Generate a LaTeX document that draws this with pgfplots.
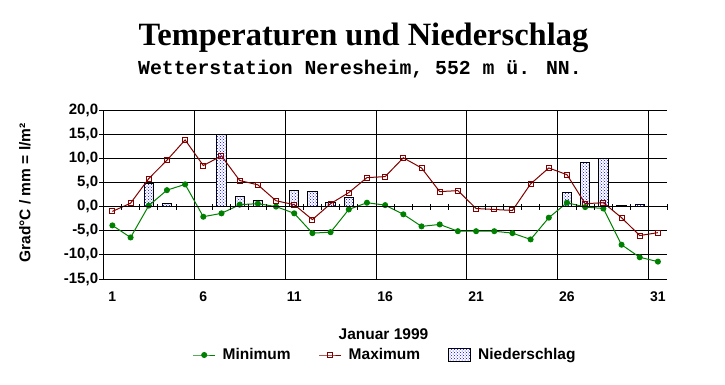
\documentclass[border=0pt]{standalone}
\usepackage{fontspec}
\setmainfont{Liberation Sans}
\newfontfamily\titlefont{Liberation Serif}
\newfontfamily\subfont{Liberation Mono}
\usepackage{pgfplots}
\pgfplotsset{compat=1.18}
\usetikzlibrary{patterns}
\definecolor{mingreen}{RGB}{0,128,0}
\definecolor{maxred}{RGB}{128,0,0}
\begin{document}
\begin{tikzpicture}
\path[use as bounding box] (-103.3pt,-105pt) rectangle (621.7pt,279pt);
\begin{axis}[
  at={(0pt,0pt)}, anchor=south west,
  scale only axis, width=563.7pt, height=169pt,
  xmin=0.5, xmax=31.5, ymin=-15, ymax=20,
  axis x line*=bottom, axis y line*=left,
  axis line style={-, black, line width=1pt},
  xtick={1,6,11,16,21,26,31},
  xticklabels={1,6,11,16,21,26,31},
  xtick style={draw=none},
  extra x ticks={5.5,10.5,15.5,20.5,25.5,30.5},
  extra x tick labels={},
  extra x tick style={grid=major, xtick style={draw=none}},
  ytick={-15,-10,...,20},
  yticklabels={{-15,0},{-10,0},{-5,0},{0,0},{5,0},{10,0},{15,0},{20,0}},
  ymajorgrids,
  grid style={black, line width=1pt},
  ytick style={black, line width=1pt},
  tick align=outside, major tick length=4pt,
  xticklabel style={font=\bfseries\fontsize{14}{16}\selectfont, inner sep=0pt, yshift=-9pt},
  yticklabel style={font=\bfseries\fontsize{15}{17}\selectfont, inner sep=1pt},
  ylabel={Grad°C / mm = l/m²},
  ylabel style={at={(axis description cs:-0.139,0.509)}, anchor=center, rotate=0, font=\bfseries\fontsize{15.5}{17}\selectfont},
  xlabel={Januar 1999},
  xlabel style={at={(axis description cs:0.497,-0.355)}, anchor=base, font=\bfseries\fontsize{15.5}{17}\selectfont},
  legend style={at={(axis description cs:0.5,-0.4497)}, anchor=center, draw=none,
    font=\bfseries\fontsize{15.5}{17}\selectfont,
    /tikz/every odd column/.append style={column sep=5pt},
    /tikz/every even column/.append style={column sep=26pt}},
  legend columns=3,
  legend image code/.code={\draw[mark repeat=2,mark phase=2,#1] plot coordinates {(0pt,0pt) (11pt,0pt) (22pt,0pt)};},
]
\addplot[ybar, bar width=9.3pt, draw=black, line width=1pt, fill=white,
  postaction={pattern=crosshatch dots, pattern color=blue}, forget plot]
  coordinates {(3,4.8) (4,0.6) (7,15.0) (8,2.0) (9,1.2) (11,3.3) (12,3.1) (13,0.9) (14,1.9)
               (26,2.9) (27,9.1) (28,10.0) (29,0.2) (30,0.4)};
\addplot[mingreen, line width=1pt, mark=*, mark size=2.5pt, mark options={fill=mingreen}]
  coordinates {(1,-3.9) (2,-6.4) (3,0.2) (4,3.4) (5,4.6) (6,-2.1) (7,-1.4) (8,0.4) (9,0.6) (10,0.0)
               (11,-1.4) (12,-5.5) (13,-5.3) (14,-0.6) (15,0.8) (16,0.3) (17,-1.6) (18,-4.1) (19,-3.7) (20,-5.1)
               (21,-5.1) (22,-5.1) (23,-5.5) (24,-6.8) (25,-2.3) (26,0.8) (27,-0.1) (28,-0.4) (29,-7.9) (30,-10.5)
               (31,-11.4)};
\addlegendentry{Minimum}
\addplot[maxred, line width=1pt, mark=square, mark size=2.5pt, mark options={solid, fill=white}]
  coordinates {(1,-1.0) (2,0.7) (3,5.8) (4,9.6) (5,13.8) (6,8.5) (7,10.5) (8,5.4) (9,4.5) (10,1.2)
               (11,0.4) (12,-2.7) (13,0.6) (14,2.9) (15,6.0) (16,6.2) (17,10.1) (18,8.0) (19,3.1) (20,3.3)
               (21,-0.4) (22,-0.6) (23,-0.8) (24,4.7) (25,8.0) (26,6.6) (27,0.6) (28,0.8) (29,-2.3) (30,-6.0)
               (31,-5.4)};
\addlegendentry{Maximum}
\addlegendimage{legend image code/.code={\draw[draw=black, line width=1pt, fill=white, postaction={pattern=crosshatch dots, pattern color=blue}] (0pt,-6pt) rectangle (22pt,7pt);}}
\addlegendentry{Niederschlag}
\end{axis}
\begin{axis}[
  at={(0pt,0pt)}, anchor=south west,
  scale only axis, width=563.7pt, height=169pt,
  xmin=0.5, xmax=31.5, ymin=-15, ymax=20,
  axis x line=middle, axis y line=none,
  x axis line style={-, black, line width=1pt},
  xtick={0.5,1.5,...,31.5}, xticklabels={},
  ytick=\empty,
  tick align=center, major tick length=6pt,
  xtick style={black, line width=1pt},
]
\end{axis}
\node[anchor=base, font=\titlefont\bfseries\fontsize{32.5}{36}\selectfont] at (260.2pt,234pt) {Temperaturen und Niederschlag};
\node[anchor=base, font=\subfont\bfseries\fontsize{19.8}{22}\selectfont] at (256.7pt,205pt) {Wetterstation Neresheim, 552 m ü. NN.};
\end{tikzpicture}
\end{document}
